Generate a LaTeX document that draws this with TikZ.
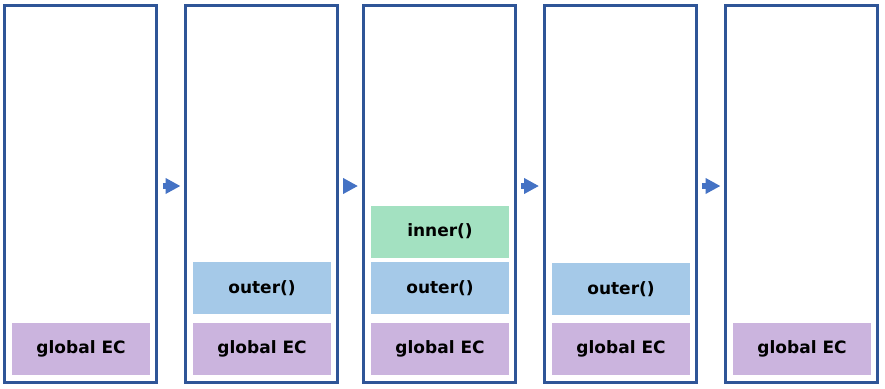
\documentclass[tikz,border=0pt]{standalone}
\usepackage{fontspec}
\setmainfont{DejaVu Sans}
\usetikzlibrary{arrows.meta}
\definecolor{framec}{HTML}{2F5597}
\definecolor{arrowc}{HTML}{4472C4}
\definecolor{purplec}{HTML}{CBB4DE}
\definecolor{bluec}{HTML}{A5C9E8}
\definecolor{greenc}{HTML}{A3E1C1}
\tikzset{
  frame/.style={draw=framec, line width=3pt, minimum width=152pt, minimum height=376.5pt, inner sep=0pt},
  ecbox/.style={minimum width=138pt, minimum height=52pt, inner sep=0pt, font=\fontsize{17}{19}\selectfont\bfseries, text=black},
  globalbox/.style={ecbox, fill=purplec},
  outerbox/.style={ecbox, fill=bluec},
  innerbox/.style={ecbox, fill=greenc},
  flow/.style={draw=arrowc, line width=6pt, -{Triangle[length=15pt,width=15pt]}}
}
\begin{document}
\begin{tikzpicture}[x=1pt,y=-1pt]
\useasboundingbox (0,0) rectangle (885,388);
\node[frame] (f1) at (80.75,193.75) {};
\node[frame] (f2) at (261.5,193.75) {};
\node[frame] (f3) at (439,193.75) {};
\node[frame] (f4) at (620,193.75) {};
\node[frame] (f5) at (801.5,193.75) {};
\coordinate (ay) at (0,186);
\node[globalbox] (g1) at (81,349) {global EC};
\node[globalbox] (g2) at (262,349) {global EC};
\node[outerbox] (o2) at (262,288) {outer()};
\node[globalbox] (g3) at (440,349) {global EC};
\node[outerbox] (o3) at (440,288) {outer()};
\node[innerbox] (i3) at (440,231.5) {inner()};
\node[globalbox] (g4) at (621,349) {global EC};
\node[outerbox] (o4) at (621,289) {outer()};
\node[globalbox] (g5) at (802,349) {global EC};
\draw[flow, shorten <=4.5pt, shorten >=3.5pt] (f1.east |- ay) -- (f2.west |- ay);
\draw[flow, shorten <=4.5pt, shorten >=3.5pt] (f2.east |- ay) -- (f3.west |- ay);
\draw[flow, shorten <=4.5pt, shorten >=3.5pt] (f3.east |- ay) -- (f4.west |- ay);
\draw[flow, shorten <=4.5pt, shorten >=3.5pt] (f4.east |- ay) -- (f5.west |- ay);
\end{tikzpicture}
\end{document}
